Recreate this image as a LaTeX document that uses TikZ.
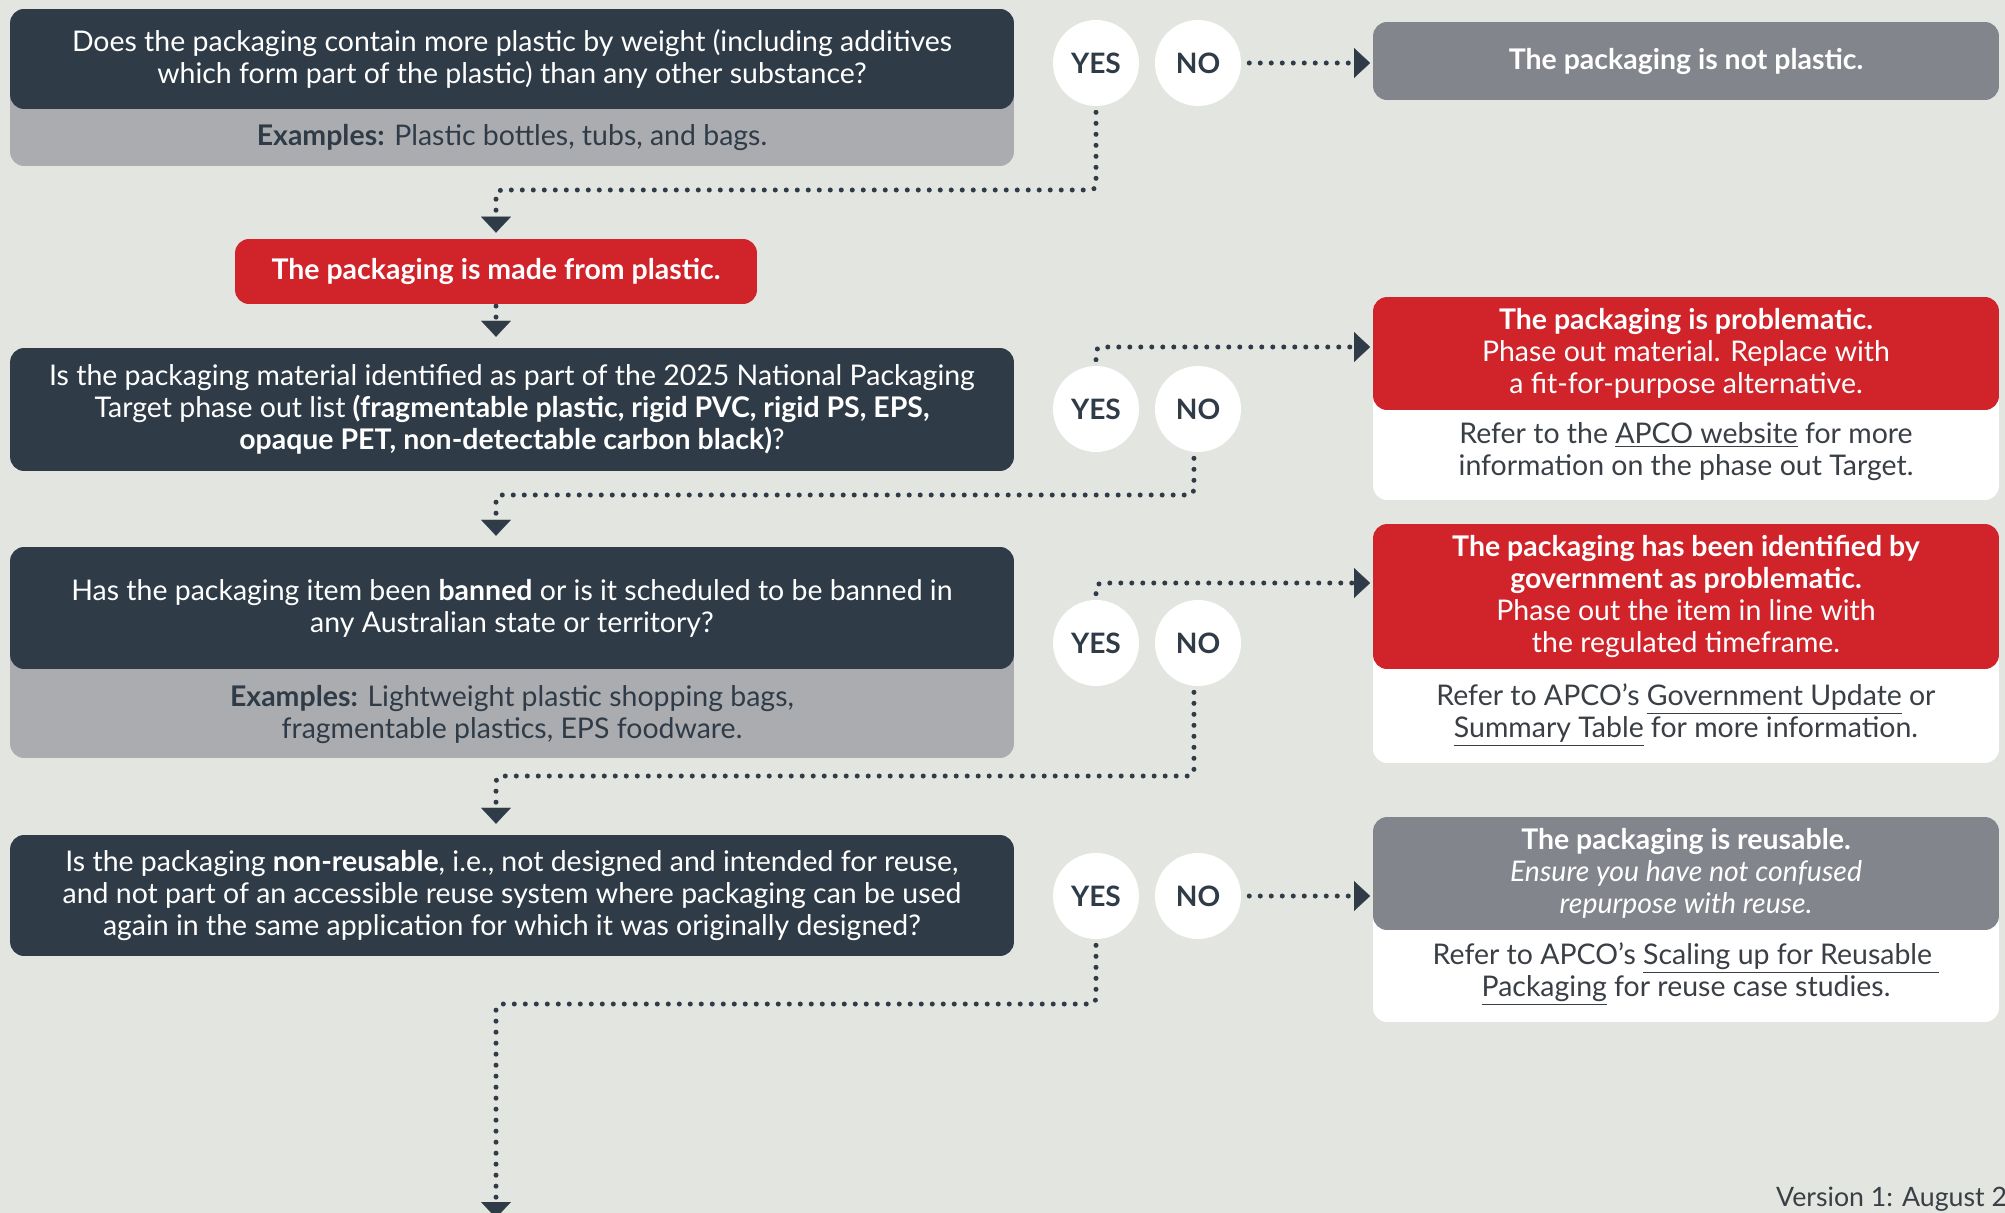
\documentclass[tikz,border=0pt]{standalone}
\usepackage{fontspec}
\setmainfont{Lato}
\usepackage{xcolor}
\usetikzlibrary{arrows.meta}

\definecolor{sfondo}{HTML}{E3E5E0}
\definecolor{ink}{HTML}{2F3C48}
\definecolor{examplegrey}{HTML}{ABACB0}
\definecolor{slate}{HTML}{83858D}
\definecolor{alert}{HTML}{D0232A}
\definecolor{notetext}{HTML}{3A3F46}

\newlength{\pix}
\setlength{\pix}{0.569055pt}
\newcommand{\boxfont}{\fontsize{16.2}{18.2}\selectfont}
\newcommand{\answerfont}{\fontsize{16}{16}\selectfont\bfseries}

\begin{document}
\begin{tikzpicture}[x=0.02cm, y=-0.02cm,
	box/.style={rounded corners=8pt, inner sep=0pt, align=center, font=\boxfont},
	question/.style={box, fill=ink, text=white, minimum width=1004\pix},
	backing/.style={box, fill=examplegrey, minimum width=1004\pix},
	outcome/.style={box, text=white, minimum width=626\pix},
	notecard/.style={box, fill=white, minimum width=626\pix},
	example/.style={font=\boxfont, align=center, text=ink},
	note/.style={font=\boxfont, align=center, text=notetext},
	answer/.style={circle, fill=white, text=ink, minimum size=86\pix, inner sep=0pt, font=\answerfont},
	flow/.style={draw=ink, line width=2.85pt, line cap=round, dash pattern=on 0pt off 6.26pt,
		rounded corners=3pt, -{Triangle[length=9.1pt, width=17pt, line width=0.1pt]}}]

	% fondo
	\useasboundingbox (0,0) rectangle (2005,1213);
	\fill[sfondo] (0,0) rectangle (2005,1213);

	% domande
	\node[backing, minimum height=157\pix] (q1x) at (512,87.5) {};
	\node[question, minimum height=100\pix] (q1) at (512,59)
		{Does the packaging contain more plastic by weight (including additives\\which form part of the plastic) than any other substance?};
	\node[example] (q1e) at (512,138) {\textbf{Examples:} Plastic bottles, tubs, and bags.};

	\node[box, fill=alert, text=white, minimum width=522\pix, minimum height=65\pix] (plastic) at (496,271.5)
		{\textbf{The packaging is made from plastic.}};

	\node[question, minimum height=123\pix] (q2) at (512,409.5)
		{Is the packaging material identified as part of the 2025 National Packaging\\Target phase out list \textbf{(fragmentable plastic, rigid PVC, rigid PS, EPS,}\\\textbf{opaque PET, non-detectable carbon black)}?};

	\node[backing, minimum height=211\pix] (q3x) at (512,652.5) {};
	\node[question, minimum height=122\pix] (q3) at (512,608)
		{Has the packaging item been \textbf{banned} or is it scheduled to be banned in\\any Australian state or territory?};
	\node[example] (q3e) at (512,715) {\textbf{Examples:} Lightweight plastic shopping bags,\\fragmentable plastics, EPS foodware.};

	\node[question, minimum height=121\pix] (q4) at (512,895.5)
		{Is the packaging \textbf{non-reusable}, i.e., not designed and intended for reuse,\\and not part of an accessible reuse system where packaging can be used\\again in the same application for which it was originally designed?};

	% risposte
	\node[answer] (yes1) at (1096,63) {YES};
	\node[answer] (no1) at (1198,63) {NO};
	\node[answer] (yes2) at (1096,409) {YES};
	\node[answer] (no2) at (1198,409) {NO};
	\node[answer] (yes3) at (1096,643) {YES};
	\node[answer] (no3) at (1198,643) {NO};
	\node[answer] (yes4) at (1096,896) {YES};
	\node[answer] (no4) at (1198,896) {NO};

	% esiti
	\node[outcome, fill=slate, minimum height=78\pix] (np) at (1686,61) {\textbf{The packaging is not plastic.}};

	\node[notecard, minimum height=203\pix] (probx) at (1686,398.5) {};
	\node[outcome, fill=alert, minimum height=113\pix] (prob) at (1686,353.5)
		{\textbf{The packaging is problematic.}\\Phase out material. Replace with\\a fit-for-purpose alternative.};
	\node[note] (probn) at (1686,452) {Refer to the \underline{APCO website} for more\\information on the phase out Target.};

	\node[notecard, minimum height=239\pix] (govx) at (1686,643.5) {};
	\node[outcome, fill=alert, minimum height=145\pix] (gov) at (1686,596.5)
		{\textbf{The packaging has been identified by}\\\textbf{government as problematic.}\\Phase out the item in line with\\the regulated timeframe.};
	\node[note] (govn) at (1686,715) {Refer to APCO's \underline{Government Update} or\\\underline{Summary Table} for more information.};

	\node[notecard, minimum height=205\pix] (reusex) at (1686,919.5) {};
	\node[outcome, fill=slate, minimum height=113\pix] (reuse) at (1686,873.5)
		{\textbf{The packaging is reusable.}\\\textit{Ensure you have not confused}\\\textit{repurpose with reuse.}};
	\node[note] (reusen) at (1686,974) {Refer to APCO's \underline{Scaling up for Reusable\ }\\\underline{Packaging} for reuse case studies.};

	\coordinate (out) at (496,1218);

	% collegamenti
	\draw[flow, shorten <=4.5pt, shorten >=1.5pt] (no1.east) -- (no1.east -| np.west);
	\draw[flow, shorten <=3.4pt, shorten >=3.4pt] (yes1.south) -- (yes1.south |- 0,190) -| (plastic.north);
	\draw[flow, shorten <=1pt, shorten >=6.2pt] (plastic.south) -- (plastic.south |- q2.north);
	\draw[flow, shorten <=3.4pt, shorten >=1.5pt] (yes2.north) -- (yes2.north |- 0,347) -- (np.west |- 0,347);
	\draw[flow, shorten <=3.4pt, shorten >=6.2pt] ([xshift=-2.3pt]no2.south) -- ([xshift=-2.3pt]no2.south |- 0,495) -| (plastic.south |- q3.north);
	\draw[flow, shorten <=3.4pt, shorten >=1.5pt] (yes3.north) -- (yes3.north |- 0,583) -- (gov.west |- 0,583);
	\draw[flow, shorten <=3.4pt, shorten >=6.2pt] ([xshift=-2.3pt]no3.south) -- ([xshift=-2.3pt]no3.south |- 0,776) -| (plastic.south |- q4.north);
	\draw[flow, shorten <=4.5pt, shorten >=1.5pt] (no4.east) -- (no4.east -| reuse.west);
	\draw[flow, shorten <=3.4pt] (yes4.south) -- (yes4.south |- 0,1004) -| (out);

	% versione
	\node[font=\fontsize{15.2}{16}\selectfont, text=notetext, anchor=base west] (ver) at (1770,1206) {Version 1: August 2};
\end{tikzpicture}
\end{document}
